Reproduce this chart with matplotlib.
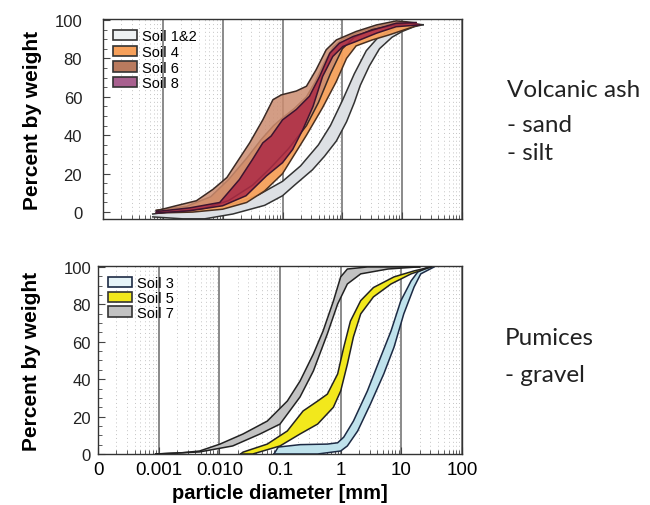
import numpy as np
import matplotlib.pyplot as plt
from matplotlib.patches import Patch
from matplotlib.ticker import FixedLocator, MultipleLocator, NullFormatter

plt.rcParams['font.family'] = ['Liberation Sans', 'DejaVu Sans']

# grading bands: log10(particle diameter [mm]) and percent by weight
# "up" = fine-side edge of the band, "lo" = coarse-side edge

# --- volcanic ash (top panel)
soil12_up_x = [-3.17, -2.7, -2.2, -1.8, -1.4, -1.0, -0.7, -0.4, -0.2, 0.0, 0.2, 0.4, 0.6, 0.9, 1.2, 1.35]
soil12_up_y = [-1, 1, 2.5, 4.5, 9, 16, 24, 35, 45, 58, 72, 84, 91, 96, 98, 97.5]
soil12_lo_x = [-3.17, -2.67, -2.3, -1.83, -1.3, -1.0, -0.8, -0.5, -0.3, -0.1, 0.07, 0.2, 0.3, 0.45, 0.62, 0.83, 1.0, 1.2, 1.35]
soil12_lo_y = [-2.5, -3.5, -3.5, -1.0, 3.5, 8.5, 14, 22, 29, 37, 47, 57, 66, 76, 85, 91, 94, 96.5, 97.5]

soil4_up_x = [-3.11, -2.6, -2.2, -1.9, -1.6, -1.35, -1.15, -1.0, -0.8, -0.6, -0.45, -0.3, -0.15, 0.0, 0.3, 0.7, 1.0, 1.29]
soil4_up_y = [1, 3, 8, 17, 28, 38, 45, 49, 54, 60, 68, 78, 86, 90, 94, 97.5, 99, 97.5]
soil4_lo_x = [-3.11, -2.5, -2.0, -1.6, -1.3, -1.0, -0.88, -0.6, -0.33, -0.1, 0.07, 0.23, 0.5, 0.78, 1.0, 1.29]
soil4_lo_y = [-0.5, 0, 1.5, 5, 11, 20, 26, 40, 54.4, 68, 80, 86.5, 89.6, 92.2, 94.5, 97.5]

soil6_up_x = [-3.11, -2.78, -2.44, -2.16, -1.93, -1.55, -1.33, -1.16, -1.02, -0.77, -0.6, -0.44, -0.27, -0.1, 0.23, 0.57, 0.9, 1.23]
soil6_up_y = [0.7, 3.3, 5.9, 11.9, 18, 36, 48, 58.5, 61, 63, 65.5, 74, 84.5, 89.6, 94, 97.4, 99.5, 98.6]
soil6_lo_x = [-3.11, -2.7, -2.3, -1.9, -1.5, -1.2, -0.9, -0.6, -0.4, -0.2, 0.0, 0.2, 0.5, 0.9, 1.23]
soil6_lo_y = [-0.5, 0.5, 2, 6, 14, 23, 33, 45, 57, 72, 85, 91, 95, 97.5, 98.6]

soil8_up_x = [-3.11, -2.55, -2.05, -1.72, -1.5, -1.33, -1.19, -1.0, -0.77, -0.55, -0.38, -0.21, -0.05, 0.18, 0.51, 0.9, 1.23]
soil8_up_y = [0.3, 2.2, 5, 17, 27.5, 36, 39.6, 48, 53.4, 60.3, 70.6, 82.7, 87.9, 91.4, 94.8, 98.3, 98.6]
soil8_lo_x = [-3.11, -2.55, -2.0, -1.61, -1.27, -1.0, -0.83, -0.66, -0.49, -0.33, -0.16, 0.01, 0.23, 0.57, 0.9, 1.29]
soil8_lo_y = [-0.5, 0.7, 3.3, 8.5, 18.8, 25.7, 32.6, 43, 55, 70.6, 81, 86.2, 88.8, 93.1, 96.5, 97.4]

# --- pumices (bottom panel)
soil3_up_x = [-1.1, -1.03, -0.67, -0.22, -0.05, 0.05, 0.21, 0.44, 0.66, 0.83, 0.99, 1.16, 1.27, 1.44]
soil3_up_y = [0, 3.7, 5, 5.3, 6, 9, 17.6, 33.7, 51.9, 65.8, 81.8, 92.5, 97.3, 100]
soil3_lo_x = [-1.1, -0.38, 0.0, 0.11, 0.28, 0.49, 0.71, 0.88, 1.04, 1.21, 1.32, 1.54]
soil3_lo_y = [0, 0, 1.6, 4.3, 12.3, 26.7, 42.8, 57.2, 74.9, 89.3, 96.3, 100]

soil5_up_x = [-1.65, -1.61, -1.21, -0.88, -0.62, -0.38, -0.22, -0.05, 0.05, 0.16, 0.33, 0.54, 0.88, 1.21, 1.49]
soil5_up_y = [0, 1, 5.3, 12.3, 23, 28.3, 32, 42.8, 57, 71, 82, 89, 94.7, 97.9, 100]
soil5_lo_x = [-1.65, -1.45, -1.0, -0.67, -0.38, -0.12, 0.0, 0.11, 0.21, 0.33, 0.54, 0.83, 1.16, 1.49]
soil5_lo_y = [0, 0, 4.3, 10.7, 16, 25, 33.7, 48, 62.6, 74.9, 84, 90.9, 96.3, 100]

soil7_up_x = [-3.05, -2.6, -2.325, -1.99, -1.61, -1.21, -0.88, -0.67, -0.45, -0.29, -0.12, 0.0, 0.11, 0.44, 1.0, 1.3]
soil7_up_y = [0, 0.7, 1.6, 5.3, 10.7, 17.6, 28.3, 39, 53.5, 65.8, 81.8, 94.7, 98.9, 100, 100, 100]
soil7_lo_x = [-3.05, -2.325, -1.78, -1.33, -1.0, -0.67, -0.45, -0.22, -0.05, 0.11, 0.33, 0.78, 1.27, 1.3]
soil7_lo_y = [0, 1.1, 4.3, 10.7, 16, 30.5, 44.4, 64.2, 80.2, 90.9, 96.3, 98.9, 100, 100]

xtick_vals = [1e-4, 1e-3, 1e-2, 1e-1, 1, 10, 100]
xtick_labels = ['0', '0.001', '0.010', '0.1', '1', '10', '100']


def band(ax, ux, uy, lx, ly, face, edge, alpha=1.0, z=2):
    ux = 10 ** np.array(ux)
    lx = 10 ** np.array(lx)
    xs = np.concatenate([ux, lx[::-1]])
    ys = np.concatenate([uy, ly[::-1]])
    ax.fill(xs, ys, facecolor=face, alpha=alpha, edgecolor='none', zorder=z)
    ax.plot(ux, uy, color=edge, lw=1.1, zorder=z + 0.5, solid_joinstyle='round')
    ax.plot(lx, ly, color=edge, lw=1.1, zorder=z + 0.5, solid_joinstyle='round')


def style(ax, ylo, yhi, ypad, lpad):
    ax.set_xscale('log')
    ax.set_xlim(1e-4, 100)
    ax.set_ylim(ylo, yhi)
    ax.xaxis.set_major_locator(FixedLocator(xtick_vals))
    minors = [m * 10.0 ** e for e in range(-4, 2) for m in range(2, 10)]
    ax.xaxis.set_minor_locator(FixedLocator(minors))
    ax.xaxis.set_minor_formatter(NullFormatter())
    ax.yaxis.set_major_locator(MultipleLocator(20))
    ax.yaxis.set_minor_locator(MultipleLocator(5))
    ax.grid(which='major', axis='x', color='#777777', lw=1.2)
    ax.grid(which='minor', axis='x', color='#c4c4c4', lw=0.7, linestyle=(0, (1, 3)))
    ax.tick_params(which='both', direction='in', color='#444444')
    ax.tick_params(which='major', length=5)
    ax.tick_params(which='minor', length=3)
    ax.tick_params(axis='y', labelsize=12, pad=ypad, labelcolor='#222222')
    for s in ax.spines.values():
        s.set_color('#333333')
        s.set_linewidth(1.0)
    ax.set_ylabel('Percent by weight', fontsize=15, fontweight='bold', labelpad=lpad)


fig = plt.figure(figsize=(6.5, 5.06), dpi=100)
ax1 = fig.add_axes([0.1585, 0.5652, 0.5523, 0.3953])
ax2 = fig.add_axes([0.1508, 0.1008, 0.56, 0.3715])

# top panel
c12, c4, c6, c8 = '#dde0e4', '#f6a05a', '#cc8c70', '#ad2a46'
band(ax1, soil12_up_x, soil12_up_y, soil12_lo_x, soil12_lo_y, c12, '#333333', 1.0, 2)
band(ax1, soil4_up_x, soil4_up_y, soil4_lo_x, soil4_lo_y, c4, '#4a3020', 0.95, 3)
band(ax1, soil6_up_x, soil6_up_y, soil6_lo_x, soil6_lo_y, c6, '#3a2a25', 0.85, 4)
band(ax1, soil8_up_x, soil8_up_y, soil8_lo_x, soil8_lo_y, c8, '#3d1430', 0.85, 5)
style(ax1, -3.6, 100.5, 15, 9)
ax1.tick_params(axis='x', labelbottom=False)
h1 = [Patch(facecolor='#eef1f3', edgecolor='#333333', lw=1.2),
      Patch(facecolor=c4, edgecolor='#333333', lw=1.2),
      Patch(facecolor='#b97a5e', edgecolor='#333333', lw=1.2),
      Patch(facecolor='#a8608f', edgecolor='#333333', lw=1.2)]
ax1.legend(h1, ['Soil 1&2', 'Soil 4', 'Soil 6', 'Soil 8'], loc='upper left',
           frameon=False, fontsize=10.5, handlelength=1.6, handleheight=0.7,
           handletextpad=0.4, labelspacing=0.12, borderaxespad=0.3)

# bottom panel
band(ax2, soil3_up_x, soil3_up_y, soil3_lo_x, soil3_lo_y, '#bfe2ec', '#1c2a44', 1.0, 2)
band(ax2, soil5_up_x, soil5_up_y, soil5_lo_x, soil5_lo_y, '#f2e81c', '#222222', 1.0, 3)
band(ax2, soil7_up_x, soil7_up_y, soil7_lo_x, soil7_lo_y, '#c2c2c2', '#222222', 1.0, 4)
style(ax2, 0, 100.5, 5, 16)
ax2.set_xticklabels(xtick_labels)
ax2.tick_params(axis='x', labelsize=13.5, pad=5)
ax2.set_xlabel('particle diameter [mm]', fontsize=14.5, fontweight='bold', labelpad=4)
h2 = [Patch(facecolor='#e6f3f7', edgecolor='#1c2a44', lw=1.2),
      Patch(facecolor='#f2e81c', edgecolor='#333333', lw=1.2),
      Patch(facecolor='#c2c2c2', edgecolor='#333333', lw=1.2)]
ax2.legend(h2, ['Soil 3', 'Soil 5', 'Soil 7'], loc='upper left',
           frameon=False, fontsize=10.5, handlelength=1.6, handleheight=0.7,
           handletextpad=0.4, labelspacing=0.05, borderaxespad=0.3)

# side notes
note = dict(fontsize=17.5, family=['Lato', 'DejaVu Sans'], color='#222222', va='baseline')
fig.text(507 / 650, 1 - 97 / 506, 'Volcanic ash', **note)
fig.text(507 / 650, 1 - 132 / 506, '- sand', **note)
fig.text(507 / 650, 1 - 160 / 506, '- silt', **note)
fig.text(505 / 650, 1 - 345 / 506, 'Pumices', **note)
fig.text(505 / 650, 1 - 382 / 506, '- gravel', **note)

fig.savefig('out.png', dpi=100)
